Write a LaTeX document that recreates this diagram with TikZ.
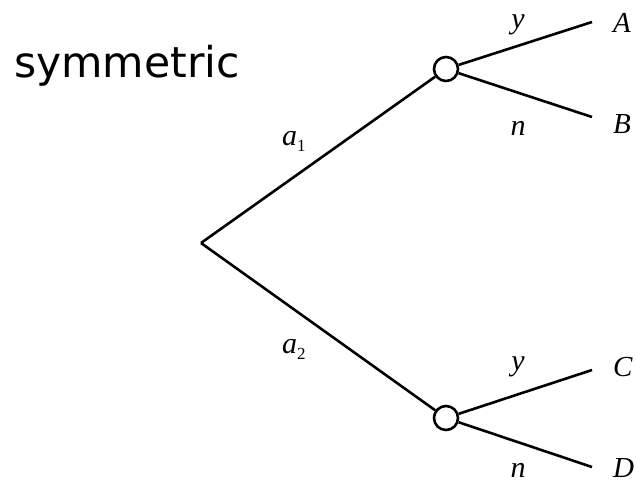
\documentclass[tikz,border=0pt]{standalone}
\usepackage{fontspec}
\setmainfont{Liberation Serif}
\newfontfamily\titlefont{DejaVu Sans}
\usetikzlibrary{positioning}

\tikzset{
  branch/.style={line width=2.6pt},
  chance/.style={circle, draw, line width=2.6pt, minimum size=24pt, inner sep=0pt, fill=white},
  lbl/.style={font=\fontsize{30}{32}\selectfont\itshape, inner sep=0pt},
  leaf/.style={font=\fontsize{29}{32}\selectfont\itshape, inner sep=0pt, anchor=base west}
}
\newcommand{\sublbl}[2]{#1\raisebox{-0.22em}{\upshape\fontsize{17}{18}\selectfont #2}}

\begin{document}
\begin{tikzpicture}[x=1pt,y=-1pt]
\useasboundingbox (0,0) rectangle (636,482);

\node[font=\titlefont\fontsize{42.5}{44}\selectfont, inner sep=0pt, anchor=base west] (title) at (14,77) {symmetric};

% decision point and chance nodes
\coordinate (root) at (201,243);
\node[chance] (up) at (446,69) {};
\node[chance] (low) at (446,418) {};

% free ends of the outcome branches
\coordinate (eA) at (592,22);
\coordinate (eB) at (592,117);
\coordinate (eC) at (592,370);
\coordinate (eD) at (592,467);

\draw[branch] (root) -- (up);
\draw[branch] (root) -- (low);
\draw[branch] (up) -- (eA);
\draw[branch] (up) -- (eB);
\draw[branch] (low) -- (eC);
\draw[branch] (low) -- (eD);

% action labels
\node[lbl, anchor=base west] (act1) at (282,145) {\sublbl{a}{1}};
\node[lbl, anchor=base west] (act2) at (282,353) {\sublbl{a}{2}};

% answer labels
\node[lbl, anchor=base] (yup) at (518,28) {y};
\node[lbl, anchor=base] (nup) at (518,135) {n};
\node[lbl, anchor=base] (ylow) at (518,370) {y};
\node[lbl, anchor=base] (nlow) at (518,477) {n};

% outcomes
\node[leaf] (A) at (613,32) {A};
\node[leaf] (B) at (613,133) {B};
\node[leaf] (C) at (613,376) {C};
\node[leaf] (D) at (613,477) {D};
\end{tikzpicture}
\end{document}
